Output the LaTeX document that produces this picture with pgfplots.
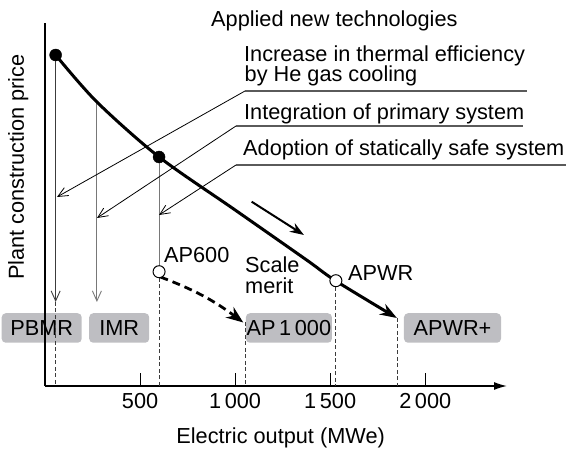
\documentclass[border=0pt]{standalone}
\usepackage{pgfplots}
\pgfplotsset{compat=1.18}
\usepackage{fontspec}
\setmainfont{Liberation Sans}
\usetikzlibrary{arrows.meta}
\definecolor{boxgray}{RGB}{190,190,194}
\definecolor{lgray}{RGB}{120,120,120}
\definecolor{dgray}{RGB}{60,60,60}
\definecolor{ugray}{RGB}{90,90,90}
\newcommand{\fs}{\fontsize{21.8}{26}\selectfont}
\begin{document}
\begin{tikzpicture}[font=\fs]
\useasboundingbox (0,0) rectangle (566bp,450bp);
% category boxes (drawn first, under the lines)
\begin{scope}[x=1bp,y=-1bp,yshift=450bp]
  \node[fill=boxgray, rounded corners=4bp, minimum width=80bp, minimum height=29.5bp, inner sep=0pt] at (41.7,328) {PBMR};
  \node[fill=boxgray, rounded corners=4bp, minimum width=60bp, minimum height=29.5bp, inner sep=0pt] at (119.2,328) {IMR};
  \node[fill=boxgray, rounded corners=4bp, minimum width=86bp, minimum height=29.5bp, inner sep=0pt] at (288.9,328) {AP\,1\,000};
  \node[fill=boxgray, rounded corners=4bp, minimum width=97bp, minimum height=29.5bp, inner sep=0pt] at (452.5,328) {APWR+};
\end{scope}
\begin{axis}[
  at={(45bp,64bp)}, anchor=south west,
  scale only axis, width=462bp, height=363bp,
  xmin=0, xmax=2430, ymin=0, ymax=363,
  axis x line=bottom, axis y line=left,
  x axis line style={-{Latex[length=13bp,width=8bp]}, line width=1.4bp},
  y axis line style={-, line width=1.4bp},
  xtick={500,1000,1500,2000},
  xticklabels={500,1\,000,1\,500,2\,000},
  ytick=\empty,
  tick align=inside, major tick length=13bp,
  xtick style={line width=0.9bp, black},
  xticklabel style={font=\fs, yshift=-4bp},
  xlabel={Electric output (MWe)},
  xlabel style={font=\fs, at={(rel axis cs:0.51,0)}, anchor=center, yshift=-52bp},
  ylabel={Plant construction price},
  ylabel style={font=\fs, at={(rel axis cs:-0.058,0.603)}, anchor=center},
  clip=false,
]
% vertical guide lines from the price curve
\addplot[dgray, line width=0.9bp, -{Straight Barb[length=10bp,width=9bp]}] coordinates {(56,331) (56,84)};
\addplot[lgray, line width=0.9bp, -{Straight Barb[length=10bp,width=9bp]}] coordinates {(273,284) (273,84)};
\addplot[lgray, line width=0.9bp] coordinates {(600,229) (600,120)};
% dashed drop lines to the axis
\addplot[dgray, line width=0.8bp, dash pattern=on 4bp off 2.5bp] coordinates {(56,84) (56,0)};
\addplot[dgray, line width=0.8bp, dash pattern=on 4bp off 2.5bp] coordinates {(600,108) (600,0)};
\addplot[dgray, line width=0.8bp, dash pattern=on 4bp off 2.5bp] coordinates {(1055,64) (1055,0)};
\addplot[dgray, line width=0.8bp, dash pattern=on 4bp off 2.5bp] coordinates {(1530,99) (1530,0)};
\addplot[dgray, line width=0.8bp, dash pattern=on 4bp off 2.5bp] coordinates {(1851,68) (1851,0)};
% price curve
\addplot[black, line width=3bp, smooth, -{Stealth[length=17bp,width=12bp]}] coordinates {(56,331) (273,284) (600,229) (1000,176) (1376,126) (1530,105) (1851,68)};
% markers
\addplot[only marks, mark=*, mark size=6bp, black] coordinates {(56,331) (600,229)};
\addplot[only marks, mark=*, mark size=6bp, mark options={fill=white, draw=black, line width=1bp}] coordinates {(600,114.3) (1530,105.3)};
% arrows
\draw[line width=2bp, -{Stealth[length=14bp,width=10bp]}] (axis cs:1087,184.3) -- (axis cs:1362,151);
\draw[line width=2.8bp, dash pattern=on 8bp off 5bp, -{Stealth[length=17bp,width=13bp]}] (axis cs:607,109) to[bend left=8] (axis cs:1043,63.5);
\end{axis}
% annotations
\begin{scope}[x=1bp,y=-1bp,yshift=450bp]
  \draw[ugray, line width=1.3bp] (245,91) -- (527,91);
  \draw[ugray, line width=1.3bp] (236,126) -- (523,126);
  \draw[ugray, line width=1.3bp] (236,165) -- (566,165);
  \draw[black, line width=0.8bp, -{Straight Barb[length=10bp,width=9bp]}] (245,91) -- (57,197);
  \draw[black, line width=0.8bp, -{Straight Barb[length=10bp,width=9bp]}] (236,126) -- (97,218);
  \draw[black, line width=0.8bp, -{Straight Barb[length=10bp,width=9bp]}] (236,165) -- (159,215);
  \node[anchor=base west, inner sep=0pt] at (211,27) {Applied new technologies};
  \node[anchor=base west, inner sep=0pt] at (244,62) {Increase in thermal efficiency};
  \node[anchor=base west, inner sep=0pt] at (244.5,82) {by He gas cooling};
  \node[anchor=base west, inner sep=0pt] at (244,120) {Integration of primary system};
  \node[anchor=base west, inner sep=0pt] at (243,156) {Adoption of statically safe system};
  \node[anchor=base west, inner sep=0pt] at (164,263) {AP600};
  \node[anchor=base west, inner sep=0pt] at (245,273) {Scale};
  \node[anchor=base west, inner sep=0pt] at (245,294) {merit};
  \node[anchor=base west, inner sep=0pt] at (348,281) {APWR};
\end{scope}
\end{tikzpicture}
\end{document}
